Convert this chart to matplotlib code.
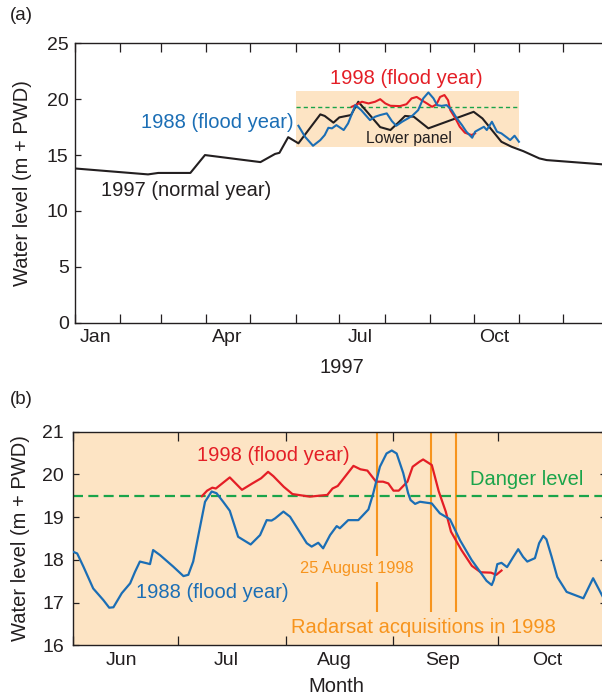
import matplotlib
matplotlib.use("Agg")
import matplotlib.pyplot as plt
from matplotlib.patches import Rectangle

plt.rcParams['font.family'] = ['Liberation Sans', 'DejaVu Sans']

# ---------------- data ----------------
# day of year (0 = 1 January)
month_starts = [0, 31, 59, 90, 120, 151, 181, 212, 243, 273, 304, 334, 365]
a_label_days = [14, 104, 195, 287]
a_labels = ['Jan', 'Apr', 'Jul', 'Oct']
b_label_days = [165, 195, 226, 257, 287]
b_labels = ['Jun', 'Jul', 'Aug', 'Sep', 'Oct']

# panel (a): 1997 normal year
a_black_day = [0, 50, 57, 79, 89, 127, 137, 140, 146, 153, 168, 171, 177, 181, 189, 194,
               200, 209, 216, 222, 226, 232, 242, 273, 279, 292, 299, 307, 318, 323, 361, 365]
a_black_lvl = [13.8, 13.27, 13.4, 13.4, 15.0, 14.37, 15.1, 15.2, 16.6, 16.05, 18.64, 18.5,
               17.9, 18.37, 18.58, 19.77, 18.87, 17.5, 17.24, 17.98, 18.5, 18.43, 17.39,
               18.87, 18.28, 16.19, 15.74, 15.35, 14.7, 14.55, 14.17, 14.15]

# panel (a) inset curves
a_blue_day = [153, 157.5, 163, 168, 171, 173.5, 176, 179, 184, 187, 192, 196, 202, 205.5,
              209, 213.5, 217, 220, 224, 228, 231, 235, 238.5, 242, 245.5, 248, 251, 254.5,
              258, 261.5, 265, 268, 272, 274, 276, 280, 282, 285.5, 289, 292, 296, 298, 301, 304]
a_blue_lvl = [17.62, 16.64, 15.83, 16.34, 16.79, 17.44, 17.39, 17.68, 17.24, 17.83, 19.47,
              19.02, 18.13, 18.43, 18.58, 18.73, 18.04, 17.62, 17.98, 18.28, 18.52, 19.02,
              20.07, 20.6, 20.07, 19.47, 19.4, 19.47, 19.02, 18.28, 17.68, 17.09, 16.55,
              17.09, 17.24, 17.53, 17.24, 17.98, 17.09, 16.94, 16.55, 16.34, 16.73, 16.19]
a_red_day = [189.5, 193, 196.5, 201, 205.5, 209, 212.5, 216, 222.5, 227, 230.5, 234, 237.5,
             241, 244.5, 247.5, 250, 253, 255.5, 257, 260.5, 263.5, 267, 271.5, 274]
a_red_lvl = [19.32, 19.53, 19.77, 19.62, 19.77, 20.0, 19.62, 19.41, 19.38, 19.55, 20.07,
             20.2, 19.9, 19.62, 19.32, 19.53, 20.2, 20.37, 19.9, 19.02, 18.28, 17.53, 17.0,
             16.79, 16.94]
a_box_days = [151, 304]
a_box_lvl = [15.75, 20.75]
a_danger = 19.3

# panel (b)
b_red_day = [188, 189.5, 191, 192, 196, 199.5, 202.5, 205, 207, 208.5, 211.5, 214, 219, 224,
             225.5, 227, 231.5, 233.5, 235.5, 238, 240, 241.5, 243, 244.5, 247, 248.5, 250.5,
             251.5, 254, 256, 258, 259.5, 262.5, 265.5, 268, 271, 272.5, 274]
b_red_lvl = [19.49, 19.62, 19.69, 19.67, 19.93, 19.64, 19.79, 19.91, 20.06, 19.96, 19.71,
             19.54, 19.48, 19.52, 19.67, 19.73, 20.2, 20.12, 20.09, 19.83, 19.83, 19.79,
             19.62, 19.62, 19.83, 20.18, 20.3, 20.35, 20.22, 19.6, 19.13, 18.66, 18.23,
             17.86, 17.71, 17.7, 17.65, 17.75]
b_blue_day = [151, 152.2, 154, 156.8, 159.7, 161.4, 162.6, 165, 167.4, 168.8, 170.2, 172.2,
              173.1, 174, 176, 179.8, 182.7, 184.1, 185.5, 187, 188.9, 190.8, 192.2, 194.1,
              196, 198.4, 202, 204.7, 206.6, 208, 209, 211.4, 213.3, 215.7, 218.1, 219.5,
              221.4, 222.8, 224.8, 226.7, 227.6, 230, 232.9, 235.8, 237.2, 239.1, 241, 242.5,
              243.9, 245.8, 247.2, 247.9, 249.2, 250.6, 254, 256.3, 259.2, 262.1, 265.4,
              268.3, 269.7, 271.2, 271.8, 272.8, 274, 275.6, 277.4, 278.8, 280.2, 281.4,
              283.6, 284.8, 286, 286.9, 288.4, 290, 292.7, 297.5, 300.3, 302.8, 304]
b_blue_lvl = [18.19, 18.15, 17.84, 17.33, 17.06, 16.88, 16.89, 17.22, 17.45, 17.72, 17.96,
              17.92, 17.9, 18.23, 18.11, 17.84, 17.62, 17.65, 17.96, 18.58, 19.36, 19.6,
              19.56, 19.36, 19.15, 18.54, 18.36, 18.58, 18.93, 18.92, 18.97, 19.13, 19.01,
              18.7, 18.39, 18.31, 18.4, 18.27, 18.58, 18.79, 18.74, 18.93, 18.93, 19.18,
              19.56, 20.18, 20.49, 20.56, 20.49, 20.03, 19.56, 19.4, 19.31, 19.36, 19.32,
              19.09, 18.95, 18.46, 18.0, 17.67, 17.51, 17.41, 17.53, 17.9, 17.93, 17.83,
              18.07, 18.25, 18.07, 17.96, 18.04, 18.39, 18.56, 18.48, 18.07, 17.6, 17.25,
              17.1, 17.57, 17.18, 17.0]
b_danger = 19.5
radarsat_days = [238.3, 253.7, 260.8]

# ---------------- style ----------------
RED = '#E41E26'
BLUE = '#1B6EB5'
GREEN = '#1AA44A'
ORANGE = '#F7941D'
PEACH = '#FDE4C4'
INK = '#231F20'
TICK_FS = 14
TEXT_FS = 14.5

fig = plt.figure(figsize=(6.02, 6.98), dpi=100)
ax_a = fig.add_axes([75 / 602, 1 - 322.7 / 698, 533 / 602, 279.4 / 698])
ax_b = fig.add_axes([73 / 602, 1 - 645.3 / 698, 533 / 602, 213.6 / 698])


def style_axes(ax, label_days, labels, ypad):
    for s in ax.spines.values():
        s.set_color(INK)
        s.set_linewidth(1.0)
    ax.set_xticks(month_starts)
    ax.set_xticklabels([])
    ax.set_xticks(label_days, minor=True)
    ax.set_xticklabels(labels, minor=True)
    ax.tick_params(axis='x', which='major', direction='in', top=True, bottom=True,
                   length=6.5, width=0.9, color=INK)
    ax.tick_params(axis='x', which='minor', length=0, pad=4.5, labelsize=TICK_FS,
                   labelcolor=INK)
    ax.tick_params(axis='y', which='major', direction='in', left=True, right=True,
                   length=4.5, width=0.9, color=INK, labelsize=TICK_FS, labelcolor=INK,
                   pad=ypad)


# ---------------- panel (a) ----------------
ax = ax_a
ax.add_patch(Rectangle((a_box_days[0], a_box_lvl[0]), a_box_days[1] - a_box_days[0],
                       a_box_lvl[1] - a_box_lvl[0], facecolor=PEACH, edgecolor='none', zorder=1))
ax.plot(a_box_days, [a_danger, a_danger], color=GREEN, lw=1.0, dashes=(3, 2.2), zorder=2)
ax.plot(a_black_day, a_black_lvl, color=INK, lw=1.5, zorder=3)
ax.plot(a_red_day, a_red_lvl, color=RED, lw=1.5, zorder=4)
ax.plot(a_blue_day, a_blue_lvl, color=BLUE, lw=1.5, zorder=5)
ax.set_yticks([0, 5, 10, 15, 20, 25])
style_axes(ax, a_label_days, a_labels, 4.5)
ax.set_xlim(0, 365)
ax.set_ylim(0, 25)
ax.set_ylabel('Water level (m + PWD)', fontsize=TEXT_FS, color=INK)
ax.yaxis.set_label_coords(-0.0994, 0.5)
ax.yaxis.label.set_va('center')
ax.set_xlabel('1997', fontsize=TEXT_FS, color=INK)
ax.xaxis.set_label_coords(0.501, -0.1586)
ax.xaxis.label.set_va('center')

ax.text(226.6, 21.86, '1998 (flood year)', color=RED, fontsize=TEXT_FS, ha='center', va='center')
ax.text(97.3, 17.89, '1988 (flood year)', color=BLUE, fontsize=TEXT_FS, ha='center', va='center')
ax.text(75.9, 11.81, '1997 (normal year)', color=INK, fontsize=TEXT_FS, ha='center', va='center')
ax.text(228.4, 16.49, 'Lower panel', color=INK, fontsize=11.3, ha='center', va='center', zorder=6)

# ---------------- panel (b) ----------------
ax = ax_b
ax.set_facecolor(PEACH)
ax.axhline(b_danger, color=GREEN, lw=1.6, dashes=(4.5, 2.4), zorder=2)
ax.vlines([radarsat_days[0], radarsat_days[0]], [16.77, 18.09], [17.48, 20.97],
          color=ORANGE, lw=1.5, zorder=1)
ax.vlines(radarsat_days[1:], 16.77, 20.97, color=ORANGE, lw=1.5, zorder=1)
ax.plot(b_red_day, b_red_lvl, color=RED, lw=1.6, zorder=3)
ax.plot(b_blue_day, b_blue_lvl, color=BLUE, lw=1.6, zorder=4)
ax.set_yticks([16, 17, 18, 19, 20, 21])
style_axes(ax, b_label_days, b_labels, 6.5)
ax.set_xlim(151, 304)
ax.set_ylim(16, 21)
ax.set_ylabel('Water level (m + PWD)', fontsize=TEXT_FS, color=INK)
ax.yaxis.set_label_coords(-0.0994, 0.5)
ax.yaxis.label.set_va('center')
ax.set_xlabel('Month', fontsize=TEXT_FS, color=INK)
ax.xaxis.set_label_coords(0.494, -0.194)
ax.xaxis.label.set_va('center')

ax.text(208.5, 20.44, '1998 (flood year)', color=RED, fontsize=TEXT_FS, ha='center', va='center')
ax.text(191.1, 17.23, '1988 (flood year)', color=BLUE, fontsize=TEXT_FS, ha='center', va='center')
ax.text(281.3, 19.87, 'Danger level', color=GREEN, fontsize=TEXT_FS, ha='center', va='center')
ax.text(232.4, 17.8, '25 August 1998', color=ORANGE, fontsize=11.8, ha='center', va='center')
ax.text(251.7, 16.42, 'Radarsat acquisitions in 1998', color=ORANGE, fontsize=TEXT_FS,
        ha='center', va='center')

fig.text(21 / 602, 1 - 15.5 / 698, '(a)', fontsize=13.5, color=INK, ha='center', va='center')
fig.text(21 / 602, 1 - 400 / 698, '(b)', fontsize=13.5, color=INK, ha='center', va='center')

fig.savefig('out.png', dpi=100)
